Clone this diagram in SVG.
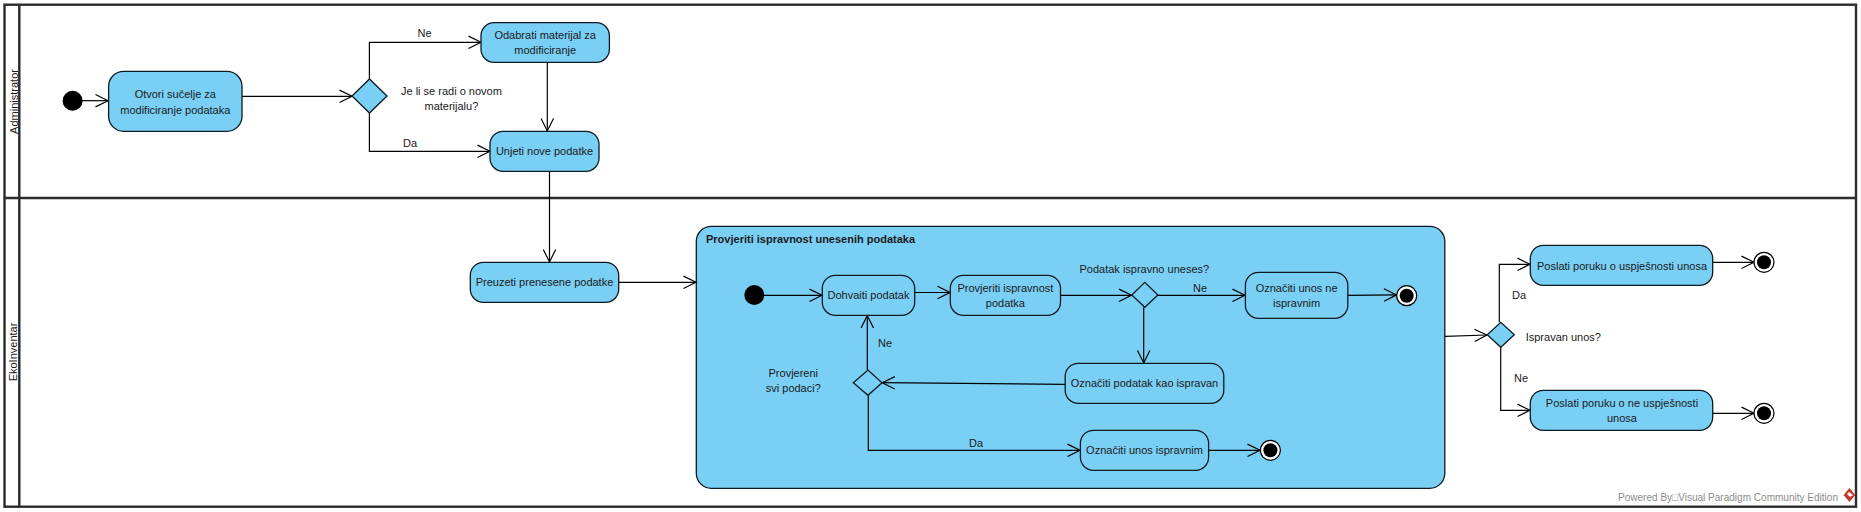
<svg xmlns="http://www.w3.org/2000/svg" width="1861" height="512" viewBox="0 0 1861 512">
<style>
text{font-family:"Liberation Sans",Arial,sans-serif;font-size:11px;fill:#1a1a1a;text-anchor:middle;dominant-baseline:central}
.a{fill:#7acff5;stroke:#0d1a22;stroke-width:1.3}
.d{fill:#7acff5;stroke:#0d1a22;stroke-width:1.3}
.f{fill:none;stroke:#2b2b2b;stroke-width:2.4}
.e{fill:#fff;stroke:#000;stroke-width:1.2}
#connectors path{fill:none;stroke:#000;stroke-width:1.2;marker-end:url(#ar)}
</style>
<defs><marker id="ar" markerUnits="userSpaceOnUse" markerWidth="16" markerHeight="16" refX="13.5" refY="8" orient="auto"><path d="M1 1.8L13.5 8L1 14.2" fill="none" stroke="#000" stroke-width="1.2"/></marker></defs>
<rect width="1861" height="512" fill="#fff"/>
<g id="frame"><rect class="f" x="4.5" y="4.7" width="1851.5" height="502"/><path class="f" d="M19.3 4.7V506.7M4.5 198H1856"/>
<text transform="translate(13.5 101.5) rotate(-90)">Administrator</text>
<text transform="translate(13 352) rotate(-90)">EkoInventar</text></g>
<g id="n-prov"><rect class="a" x="696.3" y="226.3" width="748.5" height="262" rx="15"/><text x="706" y="239" style="text-anchor:start;font-weight:bold">Provjeriti ispravnost unesenih podataka</text></g>
<g id="connectors">
<path d="M82 100.7H108"/><path d="M242 96.3H352"/><path d="M369.4 79V42.3H481"/><path d="M369.4 113V151.3H490"/><path d="M547.3 62.3V131"/><path d="M549.5 171.3V262"/><path d="M618.7 282.3H696"/>
<path d="M764 295.3H822"/><path d="M914.7 292.5H950"/><path d="M1060.5 295.3H1131.5"/><path d="M1157.9 295.3H1245"/><path d="M1347.8 295.4L1396.5 294.9"/><path d="M1143.7 307.3V363"/><path d="M1065.2 384.3L882.3 382.7"/><path d="M867.3 370V315.6"/><path d="M868.3 395.3V450.3H1080"/><path d="M1208.6 450.3H1260"/>
<path d="M1445 336.3L1487 335"/><path d="M1499.3 322.3V264.3H1530"/><path d="M1500.7 347.3V410.3H1530"/><path d="M1712.7 262.3H1754"/><path d="M1712.7 413.3H1754"/>
</g>
<g id="n-init1"><circle cx="72.6" cy="100.7" r="10"/></g>
<g id="n-otvori"><rect class="a" x="108.6" y="71.3" width="133.4" height="60" rx="15"/><text x="175.3" y="94">Otvori sučelje za</text><text x="175.3" y="110">modificiranje podataka</text></g>
<g id="n-dec1"><path class="d" d="M352 96L369.5 79L387 96L369.5 113Z"/><text x="451.4" y="91">Je li se radi o novom</text><text x="451.4" y="106">materijalu?</text></g>
<g id="n-odabrati"><rect class="a" x="481" y="22.7" width="128.4" height="39.6" rx="13"/><text x="545.2" y="35">Odabrati materijal za</text><text x="545.2" y="50">modificiranje</text></g>
<g id="n-unjeti"><rect class="a" x="490" y="131.3" width="109" height="40" rx="13"/><text x="544.5" y="151">Unjeti nove podatke</text></g>
<g id="n-preuzeti"><rect class="a" x="470.3" y="262.3" width="148.4" height="40" rx="13"/><text x="544.5" y="282.3">Preuzeti prenesene podatke</text></g>
<g id="n-init2"><circle cx="754.3" cy="295" r="10"/></g>
<g id="n-dohvaiti"><rect class="a" x="822.3" y="275.3" width="92.4" height="40" rx="13"/><text x="868.5" y="295.3">Dohvaiti podatak</text></g>
<g id="n-provjeriti"><rect class="a" x="950.3" y="275.3" width="110.2" height="40" rx="13"/><text x="1005.4" y="288.3">Provjeriti ispravnost</text><text x="1005.4" y="303.3">podatka</text></g>
<g id="n-dec2"><path class="d" d="M1131.8 295L1144.8 282.3L1157.9 295L1144.8 307.3Z"/><text x="1144.3" y="269.3">Podatak ispravno uneses?</text></g>
<g id="n-unosne"><rect class="a" x="1245.4" y="272.3" width="102.4" height="46" rx="13"/><text x="1296.6" y="288.3">Označiti unos ne</text><text x="1296.6" y="303.3">ispravnim</text></g>
<g id="n-end1"><circle class="e" cx="1406.7" cy="295.7" r="10"/><circle cx="1406.7" cy="295.7" r="7"/></g>
<g id="n-podatak"><rect class="a" x="1065.2" y="363.3" width="158.6" height="40" rx="13"/><text x="1144.5" y="383.3">Označiti podatak kao ispravan</text></g>
<g id="n-dec3"><path class="d" d="M853.3 382.7L868 370L882 382.7L868 395.3Z"/><text x="793.3" y="373.3">Provjereni</text><text x="793.3" y="388.3">svi podaci?</text></g>
<g id="n-unos"><rect class="a" x="1080.4" y="430.3" width="128.2" height="40" rx="13"/><text x="1144.5" y="450.3">Označiti unos ispravnim</text></g>
<g id="n-end2"><circle class="e" cx="1270.4" cy="450.3" r="10"/><circle cx="1270.4" cy="450.3" r="7"/></g>
<g id="n-dec4"><path class="d" d="M1487.3 334.8L1500.8 322.3L1514.3 334.8L1500.8 347.3Z"/><text x="1525.7" y="336.7" style="text-anchor:start">Ispravan unos?</text></g>
<g id="n-poruka1"><rect class="a" x="1530.3" y="245.3" width="182.4" height="40" rx="13"/><text x="1622" y="266">Poslati poruku o uspješnosti unosa</text></g>
<g id="n-poruka2"><rect class="a" x="1530.3" y="390.3" width="182.4" height="40" rx="13"/><text x="1622" y="403.3">Poslati poruku o ne uspješnosti</text><text x="1622" y="418.3">unosa</text></g>
<g id="n-end3"><circle class="e" cx="1764" cy="262.3" r="10"/><circle cx="1764" cy="262.3" r="7"/></g>
<g id="n-end4"><circle class="e" cx="1764" cy="413.3" r="10"/><circle cx="1764" cy="413.3" r="7"/></g>
<g id="labels">
<text x="424.5" y="33">Ne</text><text x="410" y="143">Da</text><text x="885" y="343">Ne</text><text x="976" y="443.3">Da</text><text x="1200" y="288.3">Ne</text><text x="1519" y="294.7">Da</text><text x="1521" y="378.3">Ne</text>
</g>
<g id="watermark"><text x="1618" y="496.7" textLength="220" lengthAdjust="spacingAndGlyphs" style="text-anchor:start;fill:#8c8c8c">Powered By□Visual Paradigm Community Edition</text>
<path d="M1849.5 488L1855.3 495L1849.5 502L1843.5 495Z" fill="#c8372d"/><path d="M1849 492L1853 495L1850 497L1847 494Z" fill="#fff"/></g>
</svg>
